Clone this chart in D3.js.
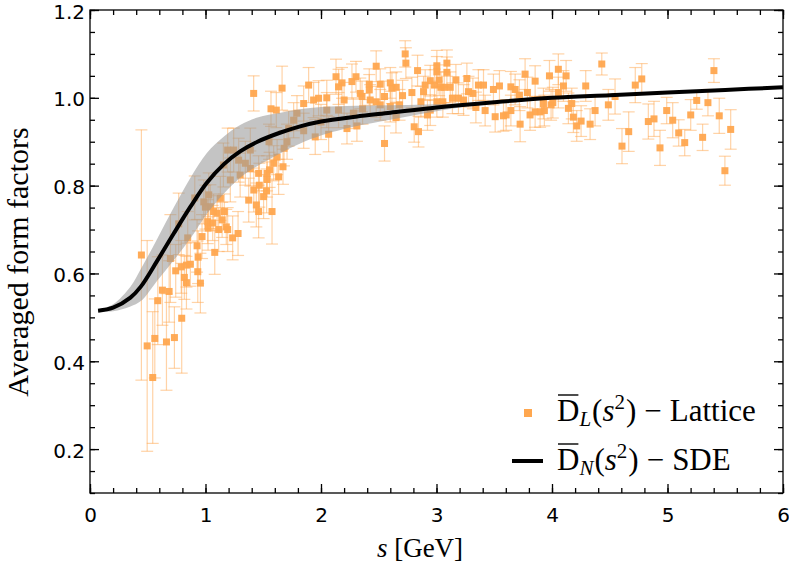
<!DOCTYPE html>
<html>
<head>
<meta charset="utf-8">
<script src="https://cdn.jsdelivr.net/npm/d3@7"></script>
<style>
  body { margin: 0; background: #fff; }
  svg { display: block; }
</style>
</head>
<body>
<div id="chart"></div>
<script>
// Lattice points: s [GeV], averaged form factor, error
var sVals = [
  0.445, 0.495, 0.543, 0.561, 0.587, 0.627, 0.685, 0.662, 0.731, 0.794,
  0.742, 0.790, 0.835, 0.869, 0.817, 0.835, 0.956, 0.933, 0.936, 0.927,
  1.080, 1.022, 0.970, 0.768, 0.696, 0.846, 0.907, 0.985, 1.028, 1.019,
  1.114, 1.192, 1.062, 1.144, 1.180, 1.070, 1.100, 1.163, 1.235, 1.282,
  1.374, 1.440, 1.460, 1.503, 1.529, 1.576, 1.418, 1.460, 1.466, 1.533,
  1.590, 1.633, 1.671, 1.417, 1.567, 1.613, 1.663, 1.706, 1.388, 1.192,
  1.244, 1.287, 1.345, 1.388, 1.763, 1.792, 1.620, 1.555, 1.533, 1.129,
  1.042, 1.215, 1.300, 1.155, 0.999, 1.893, 1.850, 1.936, 1.979, 1.950,
  2.066, 2.225, 2.311, 2.130, 2.182, 2.152, 2.268, 2.303, 2.340, 2.355,
  2.418, 2.418, 2.426, 2.478, 2.478, 2.513, 2.550, 2.600, 2.614, 2.651,
  2.706, 2.680, 2.550, 2.649, 2.729, 2.735, 2.787, 2.836, 2.807, 2.844,
  2.865, 2.888, 2.902, 2.946, 2.983, 3.003, 3.003, 3.023, 3.038, 3.090,
  3.090, 3.067, 3.119, 2.922, 2.946, 3.003, 3.055, 3.138, 3.190, 3.168,
  3.234, 3.263, 3.277, 3.315, 3.341, 3.363, 3.407, 3.421, 2.050, 2.152,
  2.513, 2.600, 2.050, 2.200, 1.720, 1.850, 2.000, 1.550, 1.680, 2.360,
  2.280, 3.493, 3.545, 3.508, 3.580, 3.603, 3.644, 3.644, 3.681, 3.718,
  3.724, 3.767, 3.787, 3.810, 3.854, 3.897, 3.934, 3.854, 3.926, 3.992,
  4.007, 3.978, 4.055, 4.122, 4.099, 4.055, 4.142, 4.185, 4.214, 4.252,
  4.171, 4.292, 4.330, 4.373, 4.431, 4.488, 4.546, 4.606, 4.664, 4.721,
  4.777, 4.834, 4.883, 4.935, 4.993, 5.045, 5.097, 5.149, 5.201, 5.253,
  5.304, 5.350, 5.402, 5.448, 5.497, 5.547
];
var dVals = [
  0.642, 0.435, 0.363, 0.452, 0.538, 0.562, 0.559, 0.444, 0.454, 0.498,
  0.606, 0.615, 0.619, 0.621, 0.591, 0.579, 0.578, 0.604, 0.637, 0.663,
  0.648, 0.703, 0.684, 0.713, 0.634, 0.681, 0.772, 0.763, 0.779, 0.718,
  0.700, 0.700, 0.715, 0.722, 0.706, 0.741, 0.737, 0.741, 0.681, 0.691,
  0.767, 0.756, 0.741, 0.775, 0.788, 0.741, 0.790, 0.828, 0.801, 0.828,
  0.851, 0.820, 0.843, 1.010, 0.975, 0.972, 1.022, 0.900, 0.881, 0.881,
  0.881, 0.858, 0.851, 0.839, 0.949, 0.965, 0.865, 0.836, 0.814, 0.771,
  0.752, 0.813, 0.824, 0.847, 0.751, 1.029, 0.987, 0.995, 0.999, 0.911,
  0.917, 0.930, 0.936, 1.048, 1.034, 1.025, 1.037, 1.048, 1.010, 1.003,
  1.031, 1.018, 0.995, 0.991, 1.072, 1.031, 1.003, 1.034, 1.022, 1.024,
  1.005, 0.984, 0.896, 0.955, 1.100, 1.079, 1.012, 1.062, 0.934, 0.923,
  0.991, 1.014, 1.029, 1.039, 1.029, 1.073, 1.059, 1.040, 1.024, 1.079,
  1.058, 1.024, 1.024, 0.961, 0.972, 0.991, 0.991, 0.999, 0.999, 1.041,
  0.995, 1.044, 1.014, 1.010, 0.978, 1.029, 1.029, 0.971, 0.972, 0.972,
  0.984, 0.980, 1.000, 0.995, 0.930, 0.925, 0.945, 0.900, 0.885, 0.975,
  0.965, 1.019, 1.027, 0.957, 0.959, 0.961, 0.971, 1.025, 1.019, 1.006,
  0.940, 1.054, 1.012, 0.961, 0.968, 0.968, 0.971, 1.038, 0.987, 0.984,
  0.989, 1.050, 1.065, 1.050, 1.027, 1.012, 0.976, 0.956, 0.936, 0.947,
  0.987, 1.027, 0.940, 0.971, 1.077, 0.984, 1.003, 0.890, 0.923, 1.029,
  1.043, 0.946, 0.952, 0.886, 0.971, 0.949, 0.920, 0.898, 0.961, 0.994,
  0.910, 0.989, 1.062, 0.959, 0.834, 0.928
];
var errVals = [
  0.285, 0.240, 0.150, 0.090, 0.100, 0.080, 0.070, 0.110, 0.070, 0.125,
  0.060, 0.060, 0.050, 0.050, 0.050, 0.060, 0.068, 0.070, 0.060, 0.060,
  0.050, 0.050, 0.050, 0.070, 0.100, 0.060, 0.050, 0.050, 0.050, 0.050,
  0.050, 0.050, 0.040, 0.040, 0.040, 0.040, 0.040, 0.040, 0.050, 0.050,
  0.050, 0.050, 0.060, 0.050, 0.050, 0.074, 0.050, 0.040, 0.050, 0.040,
  0.040, 0.040, 0.040, 0.040, 0.040, 0.040, 0.050, 0.040, 0.050, 0.050,
  0.050, 0.050, 0.050, 0.040, 0.040, 0.040, 0.040, 0.040, 0.040, 0.050,
  0.050, 0.050, 0.050, 0.050, 0.050, 0.040, 0.040, 0.040, 0.040, 0.040,
  0.040, 0.035, 0.035, 0.040, 0.035, 0.040, 0.040, 0.035, 0.035, 0.035,
  0.035, 0.035, 0.035, 0.035, 0.035, 0.035, 0.035, 0.035, 0.035, 0.035,
  0.035, 0.035, 0.040, 0.035, 0.030, 0.035, 0.035, 0.035, 0.035, 0.035,
  0.035, 0.035, 0.035, 0.035, 0.035, 0.035, 0.035, 0.035, 0.035, 0.030,
  0.035, 0.035, 0.035, 0.035, 0.035, 0.035, 0.035, 0.035, 0.035, 0.035,
  0.035, 0.035, 0.035, 0.035, 0.035, 0.035, 0.035, 0.035, 0.040, 0.040,
  0.035, 0.035, 0.040, 0.040, 0.040, 0.040, 0.040, 0.040, 0.040, 0.035,
  0.035, 0.035, 0.035, 0.035, 0.035, 0.035, 0.035, 0.035, 0.035, 0.035,
  0.040, 0.035, 0.035, 0.035, 0.035, 0.035, 0.035, 0.035, 0.035, 0.035,
  0.035, 0.035, 0.035, 0.035, 0.035, 0.035, 0.035, 0.035, 0.035, 0.035,
  0.035, 0.035, 0.035, 0.035, 0.025, 0.035, 0.040, 0.040, 0.045, 0.040,
  0.035, 0.040, 0.040, 0.040, 0.030, 0.040, 0.030, 0.030, 0.035, 0.020,
  0.030, 0.030, 0.027, 0.040, 0.033, 0.045
];

// SDE curve and its error band
var curveS = [0.07, 0.2, 0.35, 0.44, 0.58, 0.725, 0.87, 1.01, 1.16, 1.3, 1.45, 1.65, 1.82, 2.0, 2.3, 2.6, 3.0, 3.5, 4.0, 4.5, 5.0, 5.5, 6.0];
var curveD = [0.515, 0.522, 0.545, 0.570, 0.628, 0.691, 0.752, 0.806, 0.849, 0.878, 0.900, 0.921, 0.935, 0.946, 0.957, 0.966, 0.978, 0.990, 1.000, 1.006, 1.012, 1.018, 1.024];
var bandS  = [0.07, 0.2, 0.35, 0.44, 0.58, 0.725, 0.87, 1.01, 1.16, 1.3, 1.45, 1.65, 1.82, 2.0, 2.3, 2.6, 2.9, 3.2, 3.5];
var bandHi = [0.517, 0.530, 0.570, 0.610, 0.678, 0.750, 0.818, 0.874, 0.912, 0.938, 0.955, 0.966, 0.974, 0.979, 0.982, 0.983, 0.985, 0.987, 0.990];
var bandLo = [0.513, 0.514, 0.525, 0.537, 0.583, 0.630, 0.680, 0.735, 0.782, 0.818, 0.845, 0.874, 0.896, 0.914, 0.935, 0.950, 0.965, 0.978, 0.990];

var xTicks = [0, 1, 2, 3, 4, 5, 6];
var xMinor = d3.range(0, 6.001, 0.2);
var yTicks = [0.2, 0.4, 0.6, 0.8, 1.0, 1.2];
var yMinor = d3.range(0.1, 1.2001, 0.05);

var W = 789, H = 575;
var margin = { top: 10, right: 6, bottom: 82, left: 90 };
var w = W - margin.left - margin.right;
var h = H - margin.top - margin.bottom;

var svg = d3.select("#chart").append("svg")
    .attr("width", W)
    .attr("height", H);

var g = svg.append("g")
    .attr("transform", "translate(" + margin.left + "," + margin.top + ")");

var x = d3.scaleLinear().domain([0, 6]).range([0, w]);
var y = d3.scaleLinear().domain([0.1, 1.2]).range([h, 0]);

var orange = "#ffa74f";
var pts = d3.range(sVals.length);

// error bars
var eb = g.append("g")
    .attr("stroke", orange)
    .attr("stroke-opacity", 0.5)
    .attr("stroke-width", 1.2);
eb.selectAll(".v").data(pts).enter().append("line")
    .attr("x1", function(i) { return x(sVals[i]); })
    .attr("x2", function(i) { return x(sVals[i]); })
    .attr("y1", function(i) { return y(dVals[i] - errVals[i]); })
    .attr("y2", function(i) { return y(dVals[i] + errVals[i]); });
eb.selectAll(".t").data(pts).enter().append("line")
    .attr("x1", function(i) { return x(sVals[i]) - 6; })
    .attr("x2", function(i) { return x(sVals[i]) + 6; })
    .attr("y1", function(i) { return y(dVals[i] + errVals[i]); })
    .attr("y2", function(i) { return y(dVals[i] + errVals[i]); });
eb.selectAll(".b").data(pts).enter().append("line")
    .attr("x1", function(i) { return x(sVals[i]) - 6; })
    .attr("x2", function(i) { return x(sVals[i]) + 6; })
    .attr("y1", function(i) { return y(dVals[i] - errVals[i]); })
    .attr("y2", function(i) { return y(dVals[i] - errVals[i]); });

// square markers
g.append("g").selectAll("rect").data(pts).enter().append("rect")
    .attr("x", function(i) { return x(sVals[i]) - 3.5; })
    .attr("y", function(i) { return y(dVals[i]) - 3.5; })
    .attr("width", 7)
    .attr("height", 7)
    .attr("fill", orange)
    .attr("fill-opacity", 0.95);

// error band on top of the points
var area = d3.area()
    .x(function(i) { return x(bandS[i]); })
    .y0(function(i) { return y(bandLo[i]); })
    .y1(function(i) { return y(bandHi[i]); })
    .curve(d3.curveCatmullRom.alpha(0.5));
g.append("path")
    .attr("d", area(d3.range(bandS.length)))
    .attr("fill", "#999999")
    .attr("fill-opacity", 0.58);

// SDE curve
var line = d3.line()
    .x(function(i) { return x(curveS[i]); })
    .y(function(i) { return y(curveD[i]); })
    .curve(d3.curveCatmullRom.alpha(0.5));
g.append("path")
    .attr("d", line(d3.range(curveS.length)))
    .attr("fill", "none")
    .attr("stroke", "#000")
    .attr("stroke-width", 4);

// frame and inward ticks
function styleAxis(sel) {
    sel.select(".domain").remove();
    sel.selectAll("line").attr("stroke", "#000").attr("stroke-width", 1.3);
    sel.selectAll("text").attr("font-family", "'DejaVu Sans', sans-serif").attr("font-size", 20).attr("fill", "#000");
}
g.append("g").attr("transform", "translate(0," + h + ")")
    .call(d3.axisBottom(x).tickValues(xMinor).tickSize(-5).tickFormat(""))
    .call(styleAxis);
g.append("g").attr("transform", "translate(0," + h + ")")
    .call(d3.axisBottom(x).tickValues(xTicks).tickSize(-9).tickPadding(15).tickFormat(d3.format("d")))
    .call(styleAxis);
g.append("g")
    .call(d3.axisTop(x).tickValues(xMinor).tickSize(-5).tickFormat(""))
    .call(styleAxis);
g.append("g")
    .call(d3.axisTop(x).tickValues(xTicks).tickSize(-9).tickFormat(""))
    .call(styleAxis);
g.append("g")
    .call(d3.axisLeft(y).tickValues(yMinor).tickSize(-5).tickFormat(""))
    .call(styleAxis);
g.append("g")
    .call(d3.axisLeft(y).tickValues(yTicks).tickSize(-9).tickPadding(5).tickFormat(d3.format(".1f")))
    .call(styleAxis)
    .selectAll("text").attr("dy", "0.4em");
g.append("g").attr("transform", "translate(" + w + ",0)")
    .call(d3.axisRight(y).tickValues(yMinor).tickSize(-5).tickFormat(""))
    .call(styleAxis);
g.append("g").attr("transform", "translate(" + w + ",0)")
    .call(d3.axisRight(y).tickValues(yTicks).tickSize(-9).tickFormat(""))
    .call(styleAxis);
g.append("rect")
    .attr("width", w).attr("height", h)
    .attr("fill", "none").attr("stroke", "#000").attr("stroke-width", 1.3);

// axis titles
var serif = "'Liberation Serif', 'DejaVu Serif', serif";
svg.append("text")
    .attr("transform", "translate(28,262) rotate(-90)")
    .attr("text-anchor", "middle")
    .attr("font-family", serif)
    .attr("font-size", 30)
    .text("Averaged form factors");

var xl = svg.append("text")
    .attr("x", 420).attr("y", 557)
    .attr("text-anchor", "middle")
    .attr("font-family", serif)
    .attr("font-size", 27);
xl.append("tspan").attr("font-style", "italic").text("s");
xl.append("tspan").text(" [GeV]");

// legend
var leg = svg.append("g").attr("font-family", serif).attr("font-size", 31);
leg.append("rect")
    .attr("x", 524).attr("y", 409).attr("width", 8).attr("height", 8)
    .attr("fill", orange);
leg.append("line")
    .attr("x1", 512).attr("x2", 543).attr("y1", 461).attr("y2", 461)
    .attr("stroke", "#000").attr("stroke-width", 4);

function legendText(yb, sub, tail) {
    var t = leg.append("text").attr("x", 557).attr("y", yb);
    t.append("tspan").text("D");
    t.append("tspan").attr("font-style", "italic").attr("font-size", 21).attr("dy", 5).text(sub);
    t.append("tspan").attr("dy", -5).attr("dx", 1).text("(");
    t.append("tspan").attr("font-style", "italic").text("s");
    t.append("tspan").attr("font-size", 21).attr("dy", -12).text("2");
    t.append("tspan").attr("dy", 12).attr("dx", 1).text(")");
    t.append("tspan").attr("dx", 8).text("\u2212");
    t.append("tspan").attr("dx", 8).text(tail);
    var b = t.node().getExtentOfChar(0);
    leg.append("line")
        .attr("x1", b.x + 1).attr("x2", b.x + b.width - 1)
        .attr("y1", yb - 26).attr("y2", yb - 26)
        .attr("stroke", "#000").attr("stroke-width", 1.4);
}
legendText(421, "L", "Lattice");
legendText(470, "N", "SDE");
</script>
</body>
</html>
